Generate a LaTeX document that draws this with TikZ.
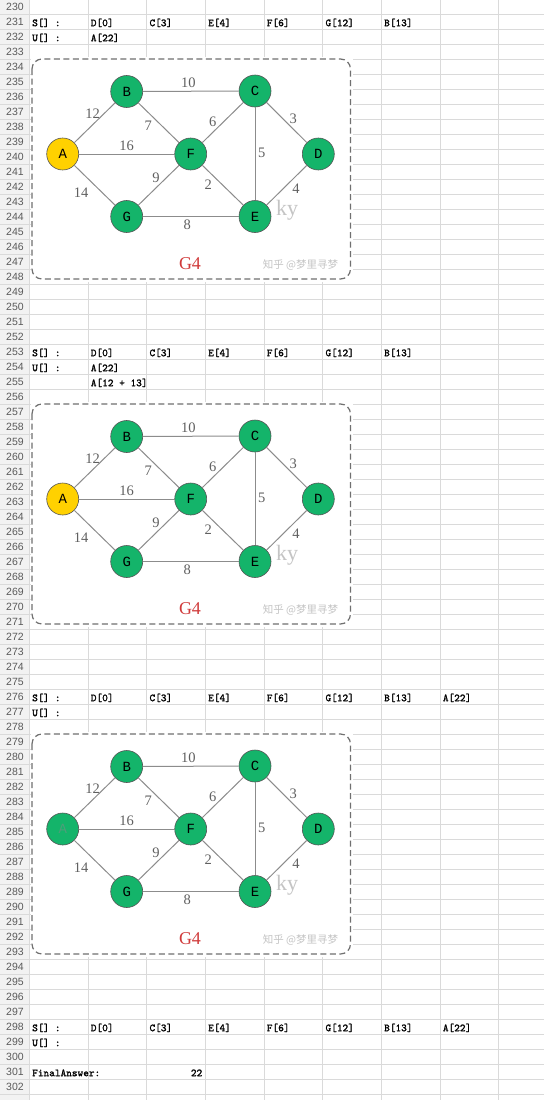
\documentclass[tikz,border=0pt]{standalone}
\usepackage{fontspec}
\setmainfont{Liberation Serif}
\newfontfamily\numfont{Liberation Sans}
\newfontfamily\nodefont{Liberation Mono}
\newfontfamily\cjkfont{Noto Sans CJK SC}
\newfontfamily\cellfont{lmmono10-regular.otf}[FakeBold=1.3]
\definecolor{gridc}{HTML}{DADADA}
\definecolor{hdrbg}{HTML}{F2F2F2}
\definecolor{hdrtxt}{HTML}{5A5A5A}
\definecolor{nodegreen}{HTML}{14B46A}
\definecolor{nodeyellow}{HTML}{FFD100}
\definecolor{vtxline}{HTML}{555555}
\definecolor{edgec}{HTML}{8C8C8C}
\definecolor{labc}{HTML}{606060}
\definecolor{framec}{HTML}{707070}
\definecolor{gfourc}{HTML}{D03A3A}
\definecolor{wmc}{HTML}{C4C4C4}
\definecolor{fadetxt}{HTML}{4E9E7A}
\newcommand\cellt[3]{\node[cell] (c-#1-#2) at ({29.3+58.67*(#2-1)+2.7},{14+15*(#1-230)-2.8}) {#3};}
\begin{document}
\begin{tikzpicture}[x=1pt,y=-1pt,
  vtx/.style={circle, minimum size=32pt, inner sep=0pt, draw=vtxline, line width=0.6pt, fill=nodegreen, font=\nodefont\fontsize{14}{14}\selectfont},
  wlab/.style={font=\fontsize{14.5}{14.5}\selectfont, text=labc, inner sep=0pt},
  edgeln/.style={draw=edgec, line width=1pt},
  cell/.style={font=\cellfont\fontsize{10.8}{11}\selectfont, anchor=base west, inner sep=0pt},
  rownum/.style={font=\numfont\fontsize{10.5}{11}\selectfont, text=hdrtxt, inner sep=0pt},
  framebox/.style={draw=framec, line width=1.2pt, dash pattern=on 6pt off 3.5pt, rounded corners=10pt}]
\fill[white] (0,0) rectangle (544,1100);
\useasboundingbox (0,0) rectangle (544,1100);
\fill[hdrbg] (0,0) rectangle (29.3,1100);
\foreach \k in {0,...,73} {\draw[gridc, line width=0.8pt] (0,{-1+15*\k}) -- (544,{-1+15*\k});}
\foreach \c in {0,...,8} {\draw[gridc, line width=0.8pt] ({29.3+58.67*\c},0) -- ({29.3+58.67*\c},1100);}
\foreach \k in {0,...,72} {\pgfmathtruncatemacro\rn{230+\k}\node[rownum] (r\k) at (15,{6.5+15*\k}) {\rn};}
% cell texts
\cellt{231}{1}{S[] :}\cellt{231}{2}{D[0]}\cellt{231}{3}{C[3]}\cellt{231}{4}{E[4]}\cellt{231}{5}{F[6]}\cellt{231}{6}{G[12]}\cellt{231}{7}{B[13]}
\cellt{232}{1}{U[] :}\cellt{232}{2}{A[22]}
\cellt{253}{1}{S[] :}\cellt{253}{2}{D[0]}\cellt{253}{3}{C[3]}\cellt{253}{4}{E[4]}\cellt{253}{5}{F[6]}\cellt{253}{6}{G[12]}\cellt{253}{7}{B[13]}
\cellt{254}{1}{U[] :}\cellt{254}{2}{A[22]}
\cellt{255}{2}{A[12 + 13]}
\cellt{276}{1}{S[] :}\cellt{276}{2}{D[0]}\cellt{276}{3}{C[3]}\cellt{276}{4}{E[4]}\cellt{276}{5}{F[6]}\cellt{276}{6}{G[12]}\cellt{276}{7}{B[13]}\cellt{276}{8}{A[22]}
\cellt{277}{1}{U[] :}
\cellt{298}{1}{S[] :}\cellt{298}{2}{D[0]}\cellt{298}{3}{C[3]}\cellt{298}{4}{E[4]}\cellt{298}{5}{F[6]}\cellt{298}{6}{G[12]}\cellt{298}{7}{B[13]}\cellt{298}{8}{A[22]}
\cellt{299}{1}{U[] :}
\cellt{301}{1}{FinalAnswer:}
\node[cell, anchor=base east] (fa) at (202.5,{14+15*71-2.8}) {22};
% graphs
\foreach \g/\o/\afill/\atxt in {1/0/nodeyellow/black, 2/345/nodeyellow/black, 3/675/nodegreen/fadetxt} {
\begin{scope}[shift={(0,\o)}]
\fill[white] (30.5,57) rectangle (353,282);
\draw[framebox] (32,59) rectangle (350.5,279);
\node[font=\fontsize{22}{22}\selectfont, text=wmc, inner sep=0pt] (ky\g) at (287,210) {ky};
\node[vtx, fill=\afill, text=\atxt] (A\g) at (62.7,154) {A};
\node[vtx] (B\g) at (126.7,91.5) {B};
\node[vtx] (C\g) at (255,91) {C};
\node[vtx] (F\g) at (190.7,154) {F};
\node[vtx] (D\g) at (318.3,154) {D};
\node[vtx] (G\g) at (126.7,216.5) {G};
\node[vtx] (E\g) at (255,216.5) {E};
\draw[edgeln] (A\g) -- (B\g);
\draw[edgeln] (B\g) -- (C\g);
\draw[edgeln] (B\g) -- (F\g);
\draw[edgeln] (A\g) -- (F\g);
\draw[edgeln] (A\g) -- (G\g);
\draw[edgeln] (C\g) -- (F\g);
\draw[edgeln] (C\g) -- (D\g);
\draw[edgeln] (C\g) -- (E\g);
\draw[edgeln] (F\g) -- (G\g);
\draw[edgeln] (F\g) -- (E\g);
\draw[edgeln] (G\g) -- (E\g);
\draw[edgeln] (D\g) -- (E\g);
\node[wlab] (l10\g) at (188.3,82.3) {10};
\node[wlab] (l12\g) at (92.7,114) {12};
\node[wlab] (l7\g) at (148.3,125.7) {7};
\node[wlab] (l6\g) at (212.7,121.7) {6};
\node[wlab] (l3\g) at (293.3,119) {3};
\node[wlab] (l16\g) at (126.7,145.7) {16};
\node[wlab] (l5\g) at (261.7,153.3) {5};
\node[wlab] (l9\g) at (156,177.3) {9};
\node[wlab] (l2\g) at (208.3,185) {2};
\node[wlab] (l14\g) at (81,192.3) {14};
\node[wlab] (l4\g) at (296,189) {4};
\node[wlab] (l8\g) at (187.3,224.3) {8};
\node[font=\fontsize{18}{18}\selectfont, text=gfourc, inner sep=0pt] (gt\g) at (190,263.3) {G4};
\node[font=\cjkfont\fontsize{10.5}{11}\selectfont, text=wmc, inner sep=0pt] (wm\g) at (300.5,265) {知乎 @梦里寻梦};
\end{scope}
}
\end{tikzpicture}
\end{document}
